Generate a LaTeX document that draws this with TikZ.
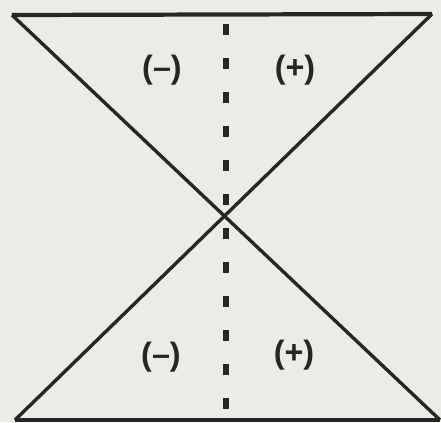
\documentclass[tikz,border=0pt]{standalone}
\usepackage{fontspec}
\setmainfont{Liberation Sans}
\usepackage{tikz}
\usetikzlibrary{positioning, calc}

\definecolor{paper}{RGB}{236,235,230}
\definecolor{ink}{RGB}{38,38,36}

\begin{document}
\begin{tikzpicture}[
    x=0.025cm, y=-0.025cm,
    edge/.style={draw=ink, line width=2.4pt},
    axis/.style={draw=ink, line width=3.6pt, dash pattern=on 7.8pt off 16.4pt},
    sign/.style={text=ink, font=\fontsize{23}{27}\selectfont\bfseries, inner sep=0pt}
]

% paper
\fill[paper] (0,0) rectangle (441,422);
\useasboundingbox (0,0) rectangle (441,422);

% corners of the two cones
\coordinate (tl) at (12,15);
\coordinate (tr) at (432,14);
\coordinate (bl) at (15,420);
\coordinate (br) at (440,420);
\coordinate (axisTop) at (226,24);
\coordinate (axisBot) at (226,409);

% the hourglass
\draw[edge, line width=3pt] (tl) -- (tr);
\draw[edge] (bl) -- (br);
\draw[edge] (tl) -- (br);
\draw[edge] (tr) -- (bl);

% dashed axis
\draw[axis] (axisTop) -- (axisBot);

% signs
\node[sign] (upMinus) at (162,70) {(--)};
\node[sign] (upPlus) at (295,70) {(+)};
\node[sign] (lowMinus) at (161,357) {(--)};
\node[sign] (lowPlus) at (294,355) {(+)};

\end{tikzpicture}
\end{document}
